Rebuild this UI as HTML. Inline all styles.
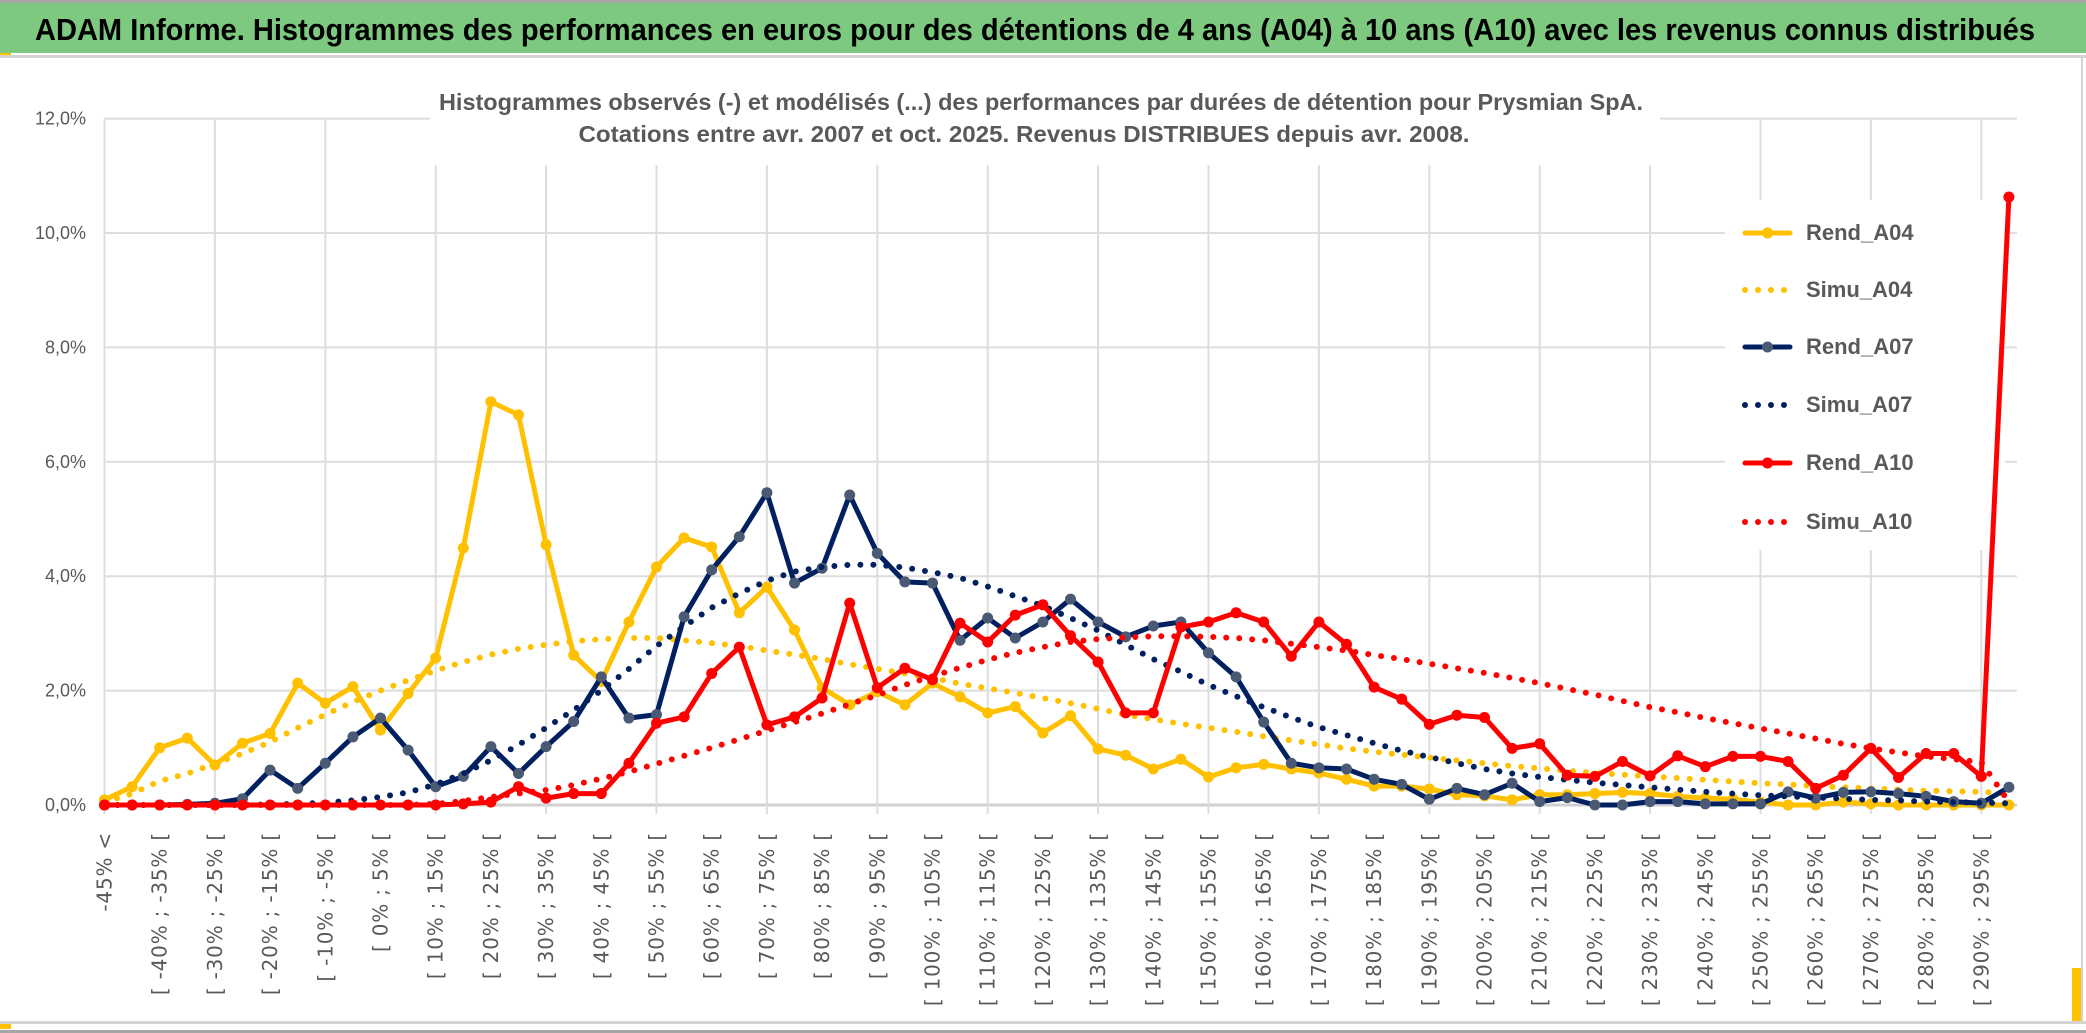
<!DOCTYPE html>
<html><head><meta charset="utf-8"><style>
html,body{margin:0;padding:0;background:#fff;}
svg{display:block;}
</style></head><body>
<svg id="chart" width="2086" height="1033" viewBox="0 0 2086 1033" xmlns="http://www.w3.org/2000/svg">
<rect x="0" y="0" width="2086" height="1033" fill="#fff"/>
<rect x="0" y="0" width="2086" height="3" fill="#a6a6a6"/>
<rect x="0" y="3" width="2086" height="50" fill="#7dc97f"/>
<text x="35" y="40" font-family="'Liberation Sans Narrow','Liberation Sans',sans-serif" font-weight="bold" font-size="31" fill="#000" textLength="2000" lengthAdjust="spacingAndGlyphs">ADAM Informe. Histogrammes des performances en euros pour des détentions de 4 ans (A04) à 10 ans (A10) avec les revenus connus distribués</text>
<rect x="0" y="53" width="11" height="4" fill="#ffc000"/>
<rect x="0" y="55" width="2086" height="3" fill="#d4d4d4"/>
<rect x="0" y="1021" width="2086" height="3" fill="#d4d4d4"/>
<rect x="0" y="1024" width="11" height="5" fill="#ffc000"/>
<rect x="0" y="1030" width="2086" height="3" fill="#a6a6a6"/>
<rect x="2081" y="58" width="2" height="963" fill="#d4d4d4"/>
<rect x="2072" y="968" width="9" height="53" fill="#ffc000"/>
<g id="grid"></g>
<g id="ylabels"></g>
<g id="xlabels"></g>
<rect x="430" y="58" width="1230" height="107" fill="#fff"/>
<text x="1041" y="110" text-anchor="middle" font-family="'Liberation Sans Narrow','Liberation Sans',sans-serif" font-weight="bold" font-size="23" fill="#595959" textLength="1204" lengthAdjust="spacingAndGlyphs">Histogrammes observés (-) et modélisés (...) des performances par durées de détention pour Prysmian SpA.</text>
<text x="1024" y="142" text-anchor="middle" font-family="'Liberation Sans Narrow','Liberation Sans',sans-serif" font-weight="bold" font-size="23" fill="#595959" textLength="891" lengthAdjust="spacingAndGlyphs">Cotations entre avr. 2007 et oct. 2025. Revenus DISTRIBUES depuis avr. 2008.</text>
<rect x="1725" y="200" width="280" height="350" fill="#fff"/>
<g id="series"></g>
<g id="legend"></g>
</svg>
<script>
const NS='http://www.w3.org/2000/svg';
const categories=["-45% <"];
for(let i=1;i<70;i++){const lo=-45+5*(i-1);categories.push("[ "+lo+"% ; "+(lo+5)+"% [");}
const yTicks=[0,2,4,6,8,10,12];
const yTickLabels=["0,0%","2,0%","4,0%","6,0%","8,0%","10,0%","12,0%"];
const rendA04=[0.09,0.32,1.0,1.17,0.7,1.08,1.25,2.13,1.78,2.07,1.31,1.95,2.57,4.49,7.05,6.82,4.55,2.62,2.16,3.2,4.16,4.67,4.51,3.36,3.81,3.06,2.05,1.75,1.98,1.75,2.13,1.89,1.61,1.72,1.26,1.56,0.98,0.87,0.63,0.8,0.49,0.65,0.71,0.63,0.56,0.45,0.33,0.33,0.28,0.18,0.16,0.09,0.18,0.18,0.2,0.22,0.2,0.15,0.12,0.1,0.05,0.0,0.0,0.05,0.02,0.0,0.0,0.0,0.0,0.0];
const simuA04=[0.05,0.2,0.42,0.55,0.72,0.9,1.1,1.35,1.58,1.8,2.0,2.18,2.35,2.5,2.63,2.73,2.8,2.86,2.9,2.92,2.92,2.88,2.83,2.78,2.7,2.63,2.55,2.46,2.38,2.3,2.22,2.12,2.04,1.96,1.87,1.78,1.68,1.58,1.5,1.42,1.35,1.28,1.2,1.13,1.06,0.99,0.93,0.88,0.83,0.78,0.73,0.68,0.64,0.6,0.56,0.53,0.5,0.47,0.44,0.41,0.38,0.36,0.33,0.31,0.29,0.27,0.25,0.24,0.23,0.2];
const rendA07=[0,0,0,0.01,0.03,0.11,0.61,0.29,0.73,1.19,1.52,0.96,0.32,0.5,1.02,0.55,1.02,1.46,2.24,1.52,1.58,3.29,4.11,4.69,5.46,3.88,4.14,5.42,4.4,3.9,3.88,2.88,3.27,2.92,3.2,3.6,3.2,2.94,3.13,3.2,2.66,2.24,1.45,0.73,0.65,0.63,0.45,0.36,0.1,0.29,0.18,0.38,0.06,0.13,0,0,0.06,0.06,0.02,0.02,0.02,0.23,0.12,0.22,0.23,0.2,0.15,0.06,0.03,0.31];
const simuA07=[0,0,0,0,0,0,0.01,0.02,0.04,0.08,0.14,0.22,0.36,0.55,0.78,1.05,1.35,1.66,2.0,2.38,2.78,3.12,3.45,3.7,3.92,4.08,4.16,4.2,4.2,4.15,4.07,3.97,3.82,3.65,3.48,3.27,3.05,2.8,2.55,2.33,2.1,1.9,1.71,1.53,1.36,1.22,1.08,0.95,0.84,0.73,0.63,0.55,0.49,0.44,0.39,0.35,0.31,0.27,0.23,0.2,0.17,0.15,0.13,0.11,0.09,0.08,0.06,0.05,0.04,0.03];
const rendA10=[0,0,0,0,0,0,0,0,0,0,0,0,0,0.02,0.05,0.32,0.12,0.2,0.2,0.73,1.43,1.54,2.3,2.76,1.4,1.54,1.87,3.53,2.05,2.39,2.19,3.18,2.85,3.32,3.5,2.96,2.5,1.61,1.61,3.11,3.2,3.36,3.2,2.6,3.2,2.81,2.06,1.85,1.41,1.57,1.53,0.99,1.07,0.52,0.5,0.76,0.51,0.86,0.67,0.85,0.85,0.76,0.29,0.52,0.99,0.48,0.9,0.9,0.5,10.63];
const simuA10=[0,0,0,0,0,0,0,0,0,0,0,0,0.02,0.07,0.14,0.2,0.26,0.35,0.46,0.58,0.72,0.86,1.0,1.15,1.3,1.45,1.6,1.76,1.92,2.1,2.25,2.4,2.54,2.66,2.76,2.85,2.9,2.93,2.95,2.95,2.94,2.92,2.88,2.82,2.76,2.7,2.62,2.55,2.47,2.39,2.31,2.22,2.13,2.03,1.93,1.82,1.71,1.62,1.52,1.43,1.34,1.25,1.16,1.07,0.99,0.92,0.85,0.8,0.75,0.05];
const seriesNames=["Rend_A04","Simu_A04","Rend_A07","Simu_A07","Rend_A10","Simu_A10"];

const X0=104.5, DX=27.6, Y0=805, DY=57.2;
function xs(i){return X0+i*DX;}
function ys(v){return Y0-v*DY;}
function mk(tag,attrs,parent){const e=document.createElementNS(NS,tag);for(const k in attrs)e.setAttribute(k,attrs[k]);parent.appendChild(e);return e;}

const grid=document.getElementById('grid');
yTicks.forEach((t,k)=>{
  const l=mk('line',{x1:xs(0),x2:xs(69)+8,y1:ys(t),y2:ys(t),stroke:t===0?'#d0d0d0':'#dedede','stroke-width':t===0?3:2},grid);
  
  
});
for(let i=0;i<70;i+=4){
  const l=mk('line',{x1:xs(i),x2:xs(i),y1:ys(12),y2:814,stroke:'#dedede','stroke-width':2},grid);
  
  
}
const yl=document.getElementById('ylabels');
yTicks.forEach((t,k)=>{
  const e=mk('text',{x:86,y:ys(t)+6,'text-anchor':'end','font-family':"'Liberation Sans Narrow','Liberation Sans',sans-serif",'font-size':18,fill:'#595959'},yl);
  e.textContent=yTickLabels[k];
  
  
});
const xl=document.getElementById('xlabels');
categories.forEach((c,i)=>{
  if(i%2!==0)return;
  const x=xs(i)+7;
  const e=mk('text',{x:0,y:0,transform:`translate(${x},832) rotate(-90)`,'text-anchor':'end','font-family':"'DejaVu Sans',sans-serif",'font-size':20,'letter-spacing':0.8,fill:'#595959'},xl);
  e.textContent=c;
  
  
});

const S=document.getElementById('series');
function drawSeries(vals,color,dotted,markerColor,name){
  const g=mk('g',{},S);
  
  
  const pts=vals.map((v,i)=>xs(i).toFixed(1)+','+ys(v).toFixed(1)).join(' ');
  const attrs={points:pts,fill:'none',stroke:color,'stroke-width':dotted?6:5,'stroke-linejoin':'round','stroke-linecap':'round'};
  if(dotted)attrs['stroke-dasharray']='0 13';
  const pl=mk('polyline',attrs,g);
  
  
  if(!dotted){
    vals.forEach((v,i)=>{
      const c=mk('circle',{cx:xs(i),cy:ys(v),r:5.5,fill:markerColor},g);
      
      
    });
  }
}
drawSeries(rendA04,'#ffc000',false,'#ffc000','rend-a04');
drawSeries(simuA04,'#ffc000',true,null,'simu-a04');
drawSeries(rendA07,'#002060',false,'#4a5a74','rend-a07');
drawSeries(simuA07,'#002060',true,null,'simu-a07');
drawSeries(rendA10,'#ff0000',false,'#ff0000','rend-a10');
drawSeries(simuA10,'#ff0000',true,null,'simu-a10');

const L=document.getElementById('legend');
const legColors=['#ffc000','#ffc000','#002060','#002060','#ff0000','#ff0000'];
const legMarker=['#ffc000',null,'#4a5a74',null,'#ff0000',null];
const legY=[233,290,347,405,463,522];
seriesNames.forEach((n,k)=>{
  const g=mk('g',{},L);
  
  
  const dotted=k%2===1;
  const a={x1:1745,x2:1790,y1:legY[k],y2:legY[k],stroke:legColors[k],'stroke-width':dotted?6:5,'stroke-linecap':'round'};
  if(dotted)a['stroke-dasharray']='0 13';
  mk('line',a,g);
  if(!dotted)mk('circle',{cx:1767.5,cy:legY[k],r:5.5,fill:legMarker[k]},g);
  const t=mk('text',{x:1806,y:legY[k]+7,'font-family':"'Liberation Sans Narrow','Liberation Sans',sans-serif",'font-weight':'bold','font-size':22,fill:'#595959'},g);
  t.textContent=n;
});
</script>
</body></html>
